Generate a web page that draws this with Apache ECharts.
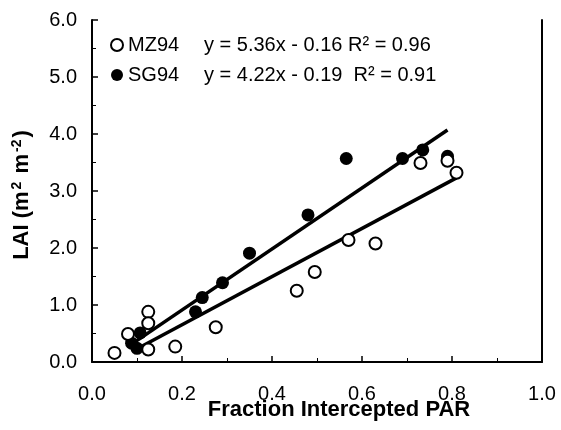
<!DOCTYPE html>
<html>
<head>
<meta charset="utf-8">
<script src="https://cdn.jsdelivr.net/npm/echarts@6/dist/echarts.min.js"></script>
<style>
html,body{margin:0;padding:0;background:#fff;}
#chart{width:561px;height:430px;}
</style>
</head>
<body>
<div id="chart"></div>
<script>
// Data
const mzX = [0.05, 0.08, 0.125, 0.125, 0.125, 0.185, 0.275, 0.455, 0.495, 0.57, 0.63, 0.73, 0.79, 0.81];
const mzY = [0.16, 0.49, 0.88, 0.68, 0.22, 0.27, 0.61, 1.25, 1.58, 2.14, 2.08, 3.49, 3.53, 3.32];
const sgX = [0.088, 0.10, 0.107, 0.23, 0.245, 0.29, 0.35, 0.48, 0.565, 0.69, 0.735, 0.79];
const sgY = [0.33, 0.24, 0.51, 0.88, 1.13, 1.39, 1.91, 2.58, 3.57, 3.57, 3.72, 3.61];
// Fitted line endpoints as drawn
const lineUpX = [0.08, 0.79];
const lineUpY = [0.27, 4.07];
const lineLowX = [0.09, 0.81];
const lineLowY = [0.19, 3.23];
const seriesNames = ['MZ94', 'SG94'];
const equations = ['y = 5.36x - 0.16 R\u00b2 = 0.96', 'y = 4.22x - 0.19  R\u00b2 = 0.91'];
const xTitle = 'Fraction Intercepted PAR';

const zip = (a, b) => a.map((v, i) => [v, b[i]]);
const FONT = '"Liberation Sans", Arial, sans-serif';

const chart = echarts.init(document.getElementById('chart'));
chart.setOption({
  animation: false,
  backgroundColor: '#fff',
  grid: { left: 92, right: 19, top: 20, bottom: 68 },
  legend: {
    orient: 'vertical',
    left: 110, top: 35, padding: 0,
    itemWidth: 12, itemHeight: 12, itemGap: 10,
    icon: 'circle',
    data: seriesNames,
    textStyle: { fontFamily: FONT, fontSize: 20, color: '#000', lineHeight: 20 }
  },
  xAxis: {
    type: 'value', min: 0, max: 1, interval: 0.2,
    axisLine: { show: true, lineStyle: { color: '#000', width: 2 } },
    axisTick: { show: true, inside: true, length: 6, lineStyle: { color: '#000', width: 1.5 } },
    minorTick: { show: true, splitNumber: 2, length: 4, lineStyle: { color: '#000' } },
    splitLine: { show: false },
    axisLabel: { fontFamily: FONT, fontSize: 20, color: '#000', margin: 22,
      formatter: v => v.toFixed(1) }
  },
  yAxis: [{
    type: 'value', min: 0, max: 6, interval: 1,
    axisLine: { show: true, lineStyle: { color: '#000', width: 2 } },
    axisTick: { show: true, inside: true, length: 6, lineStyle: { color: '#000', width: 1.5 } },
    minorTick: { show: true, splitNumber: 2, length: 4, lineStyle: { color: '#000' } },
    splitLine: { show: false },
    axisLabel: { fontFamily: FONT, fontSize: 20, color: '#000', margin: 15,
      formatter: v => v.toFixed(1) }
  }, {
    type: 'value', min: 0, max: 6, interval: 1, position: 'right',
    axisLine: { show: true, lineStyle: { color: '#000', width: 2 } },
    axisTick: { show: false }, axisLabel: { show: false }, splitLine: { show: false }
  }],
  graphic: [{
    type: 'text', x: 204, y: 45,
    style: { text: equations[0], fontFamily: FONT, fontSize: 20, fill: '#000', verticalAlign: 'middle' }
  }, {
    type: 'text', x: 204, y: 75,
    style: { text: equations[1], fontFamily: FONT, fontSize: 20, fill: '#000', verticalAlign: 'middle' }
  }, {
    type: 'text', x: 339, y: 410,
    style: { text: xTitle, fontFamily: FONT, fontSize: 22, fontWeight: 'bold', fill: '#000',
      align: 'center', verticalAlign: 'middle' }
  }, {
    type: 'text', x: 22, y: 195, rotation: Math.PI / 2,
    style: {
      text: '{b|LAI (m}{s|2}{b| m}{s|-2}{b|)}',
      align: 'center', verticalAlign: 'middle',
      rich: {
        b: { fontFamily: FONT, fontSize: 22, fontWeight: 'bold', fill: '#000', lineHeight: 24 },
        s: { fontFamily: FONT, fontSize: 14, fontWeight: 'bold', fill: '#000', verticalAlign: 'top', lineHeight: 14, padding: [0, 2, 0, 2] }
      }
    }
  }],
  series: [{
    name: 'fitUp', type: 'line', data: zip(lineUpX, lineUpY), symbol: 'none', silent: true,
    lineStyle: { color: '#000', width: 3.5 }, z: 2
  }, {
    name: 'fitLow', type: 'line', data: zip(lineLowX, lineLowY), symbol: 'none', silent: true,
    lineStyle: { color: '#000', width: 3.5 }, z: 2
  }, {
    name: 'MZ94', type: 'scatter', data: zip(mzX, mzY), symbol: 'circle', symbolSize: 12,
    itemStyle: { color: '#fff', borderColor: '#000', borderWidth: 2, opacity: 1 }, z: 4
  }, {
    name: 'SG94', type: 'scatter', data: zip(sgX, sgY), symbol: 'circle', symbolSize: 13,
    itemStyle: { color: '#000', borderColor: '#000', borderWidth: 0, opacity: 1 }, z: 3
  }]
});
</script>
</body>
</html>
